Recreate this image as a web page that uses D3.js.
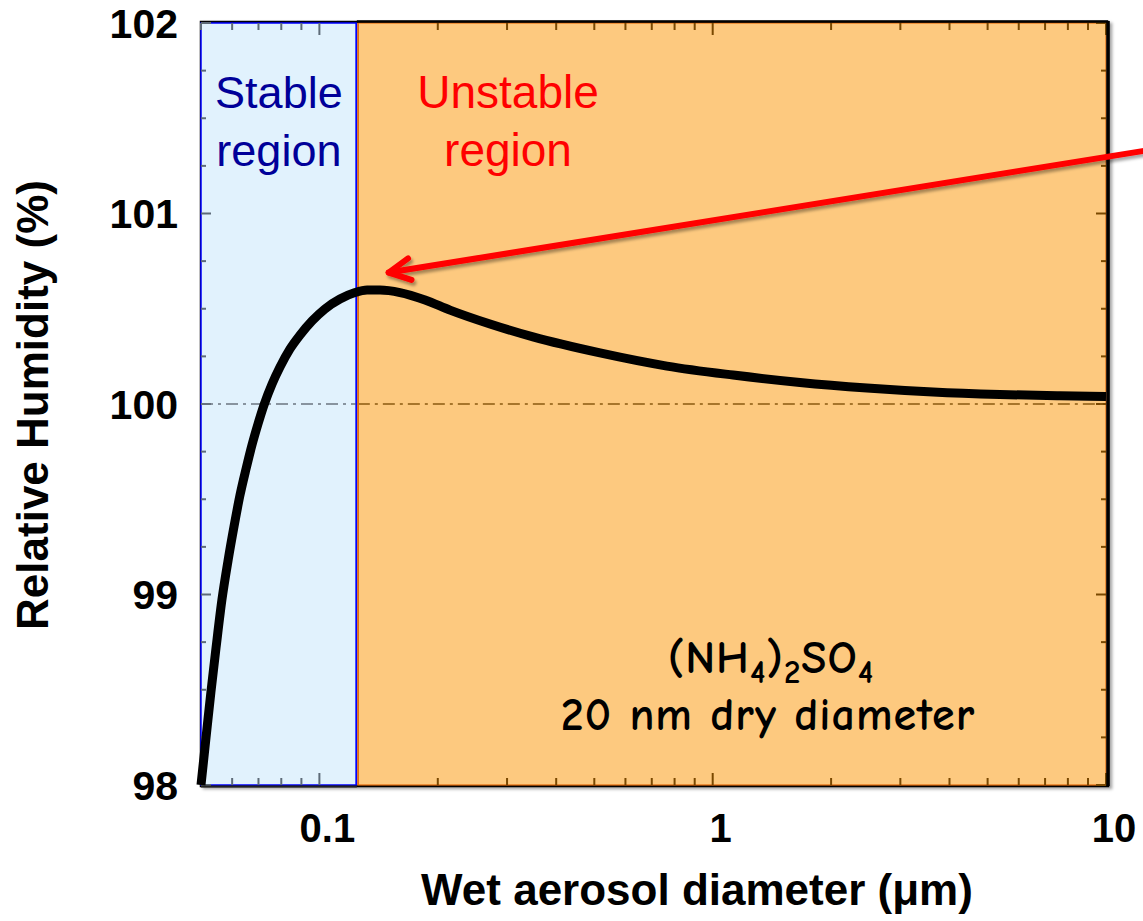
<!DOCTYPE html>
<html>
<head>
<meta charset="utf-8">
<script src="https://cdn.jsdelivr.net/npm/d3@7"></script>
<style>
  html, body { margin: 0; padding: 0; background: #ffffff; }
  svg { display: block; }
</style>
</head>
<body>
<svg id="chart" width="1143" height="921"></svg>
<script>
// Köhler curve for a 20 nm dry (NH4)2SO4 particle
const wetDiameter = [0.0500, 0.0515, 0.0530, 0.0546, 0.0565, 0.0586, 0.0607, 0.0628, 0.0651, 0.0674, 0.0698, 0.0723, 0.0758, 0.0794, 0.0842, 0.0893, 0.0958, 0.1033, 0.1128, 0.1232, 0.1322, 0.1426, 0.1603, 0.1856, 0.2148, 0.2715, 0.3493, 0.517, 0.765, 1.127, 1.667, 2.468, 3.632, 5.375, 7.64, 10];
const relHumidity = [98.00, 98.25, 98.49, 98.72, 98.97, 99.18, 99.36, 99.52, 99.66, 99.785, 99.895, 99.995, 100.105, 100.194, 100.289, 100.362, 100.436, 100.499, 100.551, 100.585, 100.598, 100.598, 100.585, 100.546, 100.493, 100.420, 100.352, 100.268, 100.199, 100.152, 100.113, 100.084, 100.063, 100.050, 100.043, 100.039];

// axis setup
const xDomain = [0.05, 10];
const yDomain = [98, 102];
const xTickValues = [0.1, 1, 10];
const xTickLabels = ["0.1", "1", "10"];
const yTickValues = [98, 99, 100, 101, 102];
const yTickLabels = ["98", "99", "100", "101", "102"];

// critical diameter separating stable / unstable growth
const criticalDiameter = 0.1245;
const saturationRH = 100;

// annotation arrow pointing at the curve maximum
const arrowTip = [0.150, 100.69];
const arrowTail = [12.6, 101.33];

(function draw() {
  const svg = d3.select("#chart");
  const pLeft = 201, pRight = 1106, pTop = 23, pBottom = 785;

  const x = d3.scaleLog().domain(xDomain).range([pLeft, pRight]);
  const y = d3.scaleLinear().domain(yDomain).range([pBottom, pTop]);

  const defs = svg.append("defs");
  const sh = defs.append("filter").attr("id", "shadow")
    .attr("x", "-20%").attr("y", "-50%").attr("width", "140%").attr("height", "200%");
  sh.append("feDropShadow").attr("dx", 2).attr("dy", 3).attr("stdDeviation", 1.6)
    .attr("flood-color", "#000").attr("flood-opacity", 0.35);
  const fsh = defs.append("filter").attr("id", "frameShadow")
    .attr("x", "-5%").attr("y", "-5%").attr("width", "110%").attr("height", "110%");
  fsh.append("feDropShadow").attr("dx", 3).attr("dy", 2).attr("stdDeviation", 1.5)
    .attr("flood-color", "#000").attr("flood-opacity", 0.35);

  // outer frame
  svg.append("rect")
    .attr("x", pLeft).attr("y", pTop - 1)
    .attr("width", pRight - pLeft + 2).attr("height", pBottom - pTop + 2)
    .attr("fill", "#fff").attr("stroke", "#000").attr("stroke-width", 2.5)
    .attr("filter", "url(#frameShadow)");

  // region backgrounds
  const xc = x(criticalDiameter);
  svg.append("rect")
    .attr("x", x(xDomain[0])).attr("y", y(yDomain[1]))
    .attr("width", xc - x(xDomain[0]) - 0.5).attr("height", y(yDomain[0]) - y(yDomain[1]))
    .attr("fill", "#E1F2FD").attr("stroke", "#0000FF").attr("stroke-width", 1.5);
  svg.append("rect")
    .attr("x", xc + 1).attr("y", y(yDomain[1]))
    .attr("width", x(xDomain[1]) - xc - 1).attr("height", y(yDomain[0]) - y(yDomain[1]))
    .attr("fill", "#FDC97F").attr("stroke", "#E46C0A").attr("stroke-width", 1.2);

  // ticks (inside the frame, colour depends on region)
  const grayTick = "#5d6b78", brownTick = "#7a4800";
  const minorX = [];
  [0.01, 0.1, 1].forEach(dec => { for (let k = 1; k <= 9; k++) minorX.push(+(dec * k).toPrecision(3)); });
  minorX.push(10);
  const xTicks = minorX.filter(v => v >= xDomain[0] && v <= xDomain[1]);
  const isMajorX = v => xTickValues.some(t => Math.abs(t - v) < 1e-9);

  const tickG = svg.append("g");
  xTicks.forEach(v => {
    const len = isMajorX(v) ? 12 : 7;
    const col = v < criticalDiameter ? grayTick : brownTick;
    tickG.append("line").attr("x1", x(v)).attr("x2", x(v))
      .attr("y1", pBottom).attr("y2", pBottom - len).attr("stroke", col).attr("stroke-width", 2);
    tickG.append("line").attr("x1", x(v)).attr("x2", x(v))
      .attr("y1", pTop).attr("y2", pTop + len).attr("stroke", col).attr("stroke-width", 2);
  });
  const yTicks = d3.range(yDomain[0], yDomain[1] + 0.001, 0.25);
  yTicks.forEach(v => {
    const len = Number.isInteger(v) ? 10 : 5;
    tickG.append("line").attr("x1", pLeft).attr("x2", pLeft + len)
      .attr("y1", y(v)).attr("y2", y(v)).attr("stroke", grayTick).attr("stroke-width", 2);
    tickG.append("line").attr("x1", pRight).attr("x2", pRight - len)
      .attr("y1", y(v)).attr("y2", y(v)).attr("stroke", brownTick).attr("stroke-width", 2);
  });

  // 100 % saturation reference (dash-dot)
  svg.append("line")
    .attr("x1", x(xDomain[0])).attr("x2", xc)
    .attr("y1", y(saturationRH)).attr("y2", y(saturationRH))
    .attr("stroke", "#6b7680").attr("stroke-width", 1.3).attr("stroke-dasharray", "12,5,3,5");
  svg.append("line")
    .attr("x1", xc + 1).attr("x2", x(xDomain[1]))
    .attr("y1", y(saturationRH)).attr("y2", y(saturationRH))
    .attr("stroke", "#8a5a10").attr("stroke-width", 1.3).attr("stroke-dasharray", "12,5,3,5");

  // boundary lines between the regions
  svg.append("line").attr("x1", xc - 0.5).attr("x2", xc - 0.5).attr("y1", pTop).attr("y2", pBottom)
    .attr("stroke", "#0000FF").attr("stroke-width", 1.5);
  svg.append("line").attr("x1", xc + 1.5).attr("x2", xc + 1.5).attr("y1", pTop).attr("y2", pBottom)
    .attr("stroke", "#E46C0A").attr("stroke-width", 1.2);

  // curve
  const pts = wetDiameter.map((d, i) => [d, relHumidity[i]]);
  svg.append("path")
    .datum(pts)
    .attr("fill", "none").attr("stroke", "#000").attr("stroke-width", 9)
    .attr("stroke-linejoin", "round")
    .attr("d", d3.line().x(d => x(d[0])).y(d => y(d[1])).curve(d3.curveMonotoneX));

  // frame edges drawn heavier
  svg.append("line").attr("x1", pRight + 2).attr("x2", pRight + 2).attr("y1", pTop - 2).attr("y2", pBottom + 1)
    .attr("stroke", "#000").attr("stroke-width", 3.5);
  svg.append("line").attr("x1", xc).attr("x2", pRight + 2).attr("y1", pTop - 1.5).attr("y2", pTop - 1.5)
    .attr("stroke", "#000").attr("stroke-width", 2.5);
  svg.append("line").attr("x1", pLeft).attr("x2", xc).attr("y1", pBottom + 1.5).attr("y2", pBottom + 1.5)
    .attr("stroke", "#222").attr("stroke-width", 2);

  // arrow annotation
  const ax1 = x(arrowTip[0]), ay1 = y(arrowTip[1]);
  const ax2 = x(arrowTail[0]), ay2 = y(arrowTail[1]);
  const ang = Math.atan2(ay2 - ay1, ax2 - ax1);
  const barb = 24, spread = 27 * Math.PI / 180;
  const arrowG = svg.append("g").attr("filter", "url(#shadow)")
    .attr("stroke", "#FF0000").attr("stroke-width", 6).attr("stroke-linecap", "round").attr("fill", "none");
  arrowG.append("line").attr("x1", ax1).attr("y1", ay1).attr("x2", ax2).attr("y2", ay2);
  arrowG.append("path").attr("stroke-linejoin", "round")
    .attr("d", `M${ax1 + barb * Math.cos(ang - spread)},${ay1 + barb * Math.sin(ang - spread)}` +
               `L${ax1},${ay1}` +
               `L${ax1 + barb * Math.cos(ang + spread)},${ay1 + barb * Math.sin(ang + spread)}`);

  // region labels
  const sansFont = "'Liberation Sans', Arial, sans-serif";
  const stableX = (x(xDomain[0]) + xc) / 2;
  const unstableX = 508;
  [["Stable", 108], ["region", 166]].forEach(([t, yy]) => {
    svg.append("text").attr("x", stableX).attr("y", yy).attr("text-anchor", "middle")
      .attr("font-family", sansFont).attr("font-size", 45).attr("fill", "#000099").text(t);
  });
  [["Unstable", 108], ["region", 166]].forEach(([t, yy]) => {
    svg.append("text").attr("x", unstableX).attr("y", yy).attr("text-anchor", "middle")
      .attr("font-family", sansFont).attr("font-size", 46).attr("fill", "#FF0000").text(t);
  });

  // compound description
  const noteFont = "'Comic Sans MS', 'Comic Neue', 'Open Sans', sans-serif";
  const formula = svg.append("text").attr("x", 771).attr("y", 673).attr("text-anchor", "middle")
    .attr("font-family", noteFont).attr("font-size", 46).attr("font-weight", 600)
    .attr("letter-spacing", 1).attr("fill", "#000");
  formula.append("tspan").text("(NH");
  formula.append("tspan").attr("font-size", 33).attr("dy", 10).text("4");
  formula.append("tspan").attr("dy", -10).text(")");
  formula.append("tspan").attr("font-size", 33).attr("dy", 10).text("2");
  formula.append("tspan").attr("dy", -10).text("SO");
  formula.append("tspan").attr("font-size", 33).attr("dy", 10).text("4");
  svg.append("text").attr("x", 768).attr("y", 730).attr("text-anchor", "middle")
    .attr("font-family", noteFont).attr("font-size", 46).attr("font-weight", 600)
    .attr("letter-spacing", 1).attr("fill", "#000")
    .text("20 nm dry diameter");

  // tick labels
  xTickValues.forEach((v, i) => {
    svg.append("text").attr("x", x(v) + 8).attr("y", 842).attr("text-anchor", "middle")
      .attr("font-family", sansFont).attr("font-weight", "bold").attr("font-size", 40)
      .attr("fill", "#000").text(xTickLabels[i]);
  });
  yTickValues.forEach((v, i) => {
    svg.append("text").attr("x", 178).attr("y", y(v)).attr("dy", "0.36em").attr("text-anchor", "end")
      .attr("font-family", sansFont).attr("font-weight", "bold").attr("font-size", 41)
      .attr("fill", "#000").text(yTickLabels[i]);
  });

  // axis titles
  svg.append("text").attr("x", 697).attr("y", 905).attr("text-anchor", "middle")
    .attr("font-family", sansFont).attr("font-weight", "bold").attr("font-size", 44)
    .attr("fill", "#000").text("Wet aerosol diameter (\u03BCm)");
  svg.append("text").attr("transform", "translate(48,405) rotate(-90)").attr("text-anchor", "middle")
    .attr("font-family", sansFont).attr("font-weight", "bold").attr("font-size", 44)
    .attr("fill", "#000").text("Relative Humidity (%)");
})();
</script>
</body>
</html>
